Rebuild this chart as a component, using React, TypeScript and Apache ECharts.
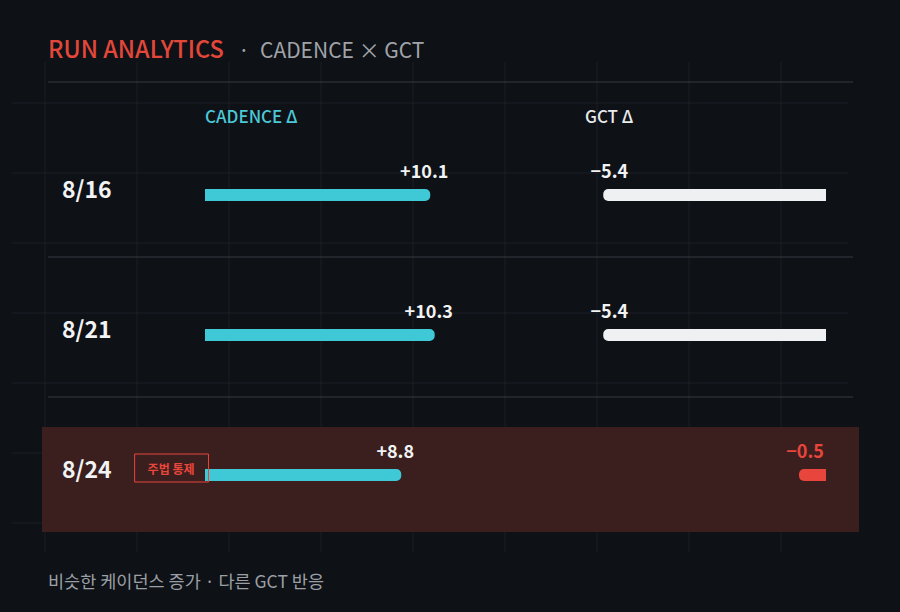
import React, { useEffect, useRef } from 'react';
import * as echarts from 'echarts';

const dates = ['8/16', '8/21', '8/24'];
const cadenceDelta = [10.1, 10.3, 8.8];
const gctDelta = [-5.4, -5.4, -0.5];
const highlightDate = '8/24';
const highlightTag = '주법 통제';

const titleMain = 'RUN ANALYTICS';
const titleSub = 'CADENCE × GCT';
const cadenceHeader = 'CADENCE Δ';
const gctHeader = 'GCT Δ';
const footNote = '비슷한 케이던스 증가 · 다른 GCT 반응';

const FONT = '"Noto Sans CJK KR", "Noto Sans", sans-serif';
const BG = '#0e1116';
const CYAN = '#3fc8d6';
const WHITE = '#eef0f2';
const RED = '#e8453c';

const App: React.FC = () => {
  const chartRef = useRef<HTMLDivElement>(null);

  useEffect(() => {
    document.body.style.margin = '0';
    const chart = echarts.init(chartRef.current!, undefined, { renderer: 'svg' });

    // faint background grid + stronger row separators
    const bgLines: any[] = [];
    for (let i = 0; i < 9; i++) {
      const x = 45 + i * 92;
      bgLines.push({
        type: 'line',
        z: 0,
        shape: { x1: x, y1: 62, x2: x, y2: 552 },
        style: { stroke: '#1b2026', lineWidth: 1 },
      });
    }
    for (let i = 0; i < 7; i++) {
      const y = 103 + i * 70;
      bgLines.push({
        type: 'line',
        z: 0,
        shape: { x1: 12, y1: y, x2: 848, y2: y },
        style: { stroke: '#1b2026', lineWidth: 1 },
      });
    }
    [82, 257, 397].forEach((y) => {
      bgLines.push({
        type: 'line',
        z: 1,
        shape: { x1: 48, y1: y, x2: 853, y2: y },
        style: { stroke: '#363b41', lineWidth: 1 },
      });
    });

    const options: any = {
      animation: false,
      backgroundColor: BG,
      textStyle: { fontFamily: FONT },
      graphic: [
        ...bgLines,
        {
          type: 'rect',
          z: 1,
          shape: { x: 42, y: 427, width: 817, height: 105 },
          style: { fill: '#3a1f1e' },
        },
        {
          type: 'text',
          z: 5,
          x: 48,
          y: 48,
          style: {
            text: titleMain,
            fill: '#e2473a',
            fontSize: 23.5,
            fontWeight: 500,
            fontFamily: FONT,
            verticalAlign: 'middle',
          },
        },
        {
          type: 'text',
          z: 5,
          x: 244,
          y: 49,
          style: {
            text: '·',
            fill: '#a0a4a9',
            fontSize: 21,
            fontFamily: FONT,
            align: 'center',
            verticalAlign: 'middle',
          },
        },
        {
          type: 'text',
          z: 5,
          x: 260,
          y: 49,
          style: {
            text: titleSub,
            fill: '#a0a4a9',
            fontSize: 21,
            fontFamily: FONT,
            verticalAlign: 'middle',
          },
        },
        {
          type: 'text',
          z: 5,
          x: 205,
          y: 115,
          style: {
            text: cadenceHeader,
            fill: '#4cc7d6',
            fontSize: 17,
            fontWeight: 500,
            fontFamily: FONT,
            verticalAlign: 'middle',
          },
        },
        {
          type: 'text',
          z: 5,
          x: 585,
          y: 115,
          style: {
            text: gctHeader,
            fill: '#e8eaec',
            fontSize: 17,
            fontWeight: 500,
            fontFamily: FONT,
            verticalAlign: 'middle',
          },
        },
        {
          type: 'text',
          z: 5,
          x: 48,
          y: 580,
          style: {
            text: footNote,
            fill: '#9ba0a6',
            fontSize: 17.5,
            fontFamily: FONT,
            verticalAlign: 'middle',
          },
        },
      ],
      grid: [
        { left: 205, width: 267.6, top: 125, height: 420 },
        { left: 496, width: 330, top: 125, height: 420 },
      ],
      xAxis: [
        { type: 'value', gridIndex: 0, min: 0, max: 12, show: false },
        { type: 'value', gridIndex: 1, min: -8, max: 0, show: false },
      ],
      yAxis: [
        {
          type: 'category',
          gridIndex: 0,
          z: 5,
          data: dates,
          inverse: true,
          axisLine: { show: false },
          axisTick: { show: false },
          splitLine: { show: false },
          axisLabel: {
            align: 'left',
            margin: 143,
            padding: [0, 0, 14, 0],
            formatter: (v: string) =>
              v === highlightDate ? `{d|${v}}{gap|}{badge|${highlightTag}}` : `{d|${v}}`,
            rich: {
              d: {
                fontSize: 23,
                fontWeight: 'bold',
                color: '#f2f3f4',
                fontFamily: FONT,
              },
              gap: { width: 23 },
              badge: {
                fontSize: 12,
                fontWeight: 'bold',
                color: RED,
                fontFamily: FONT,
                borderColor: RED,
                borderWidth: 1,
                padding: [8, 14, 8, 13],
              },
            },
          },
        },
        {
          type: 'category',
          gridIndex: 1,
          data: dates,
          inverse: true,
          show: false,
        },
      ],
      series: [
        {
          name: 'cadence',
          type: 'bar',
          xAxisIndex: 0,
          yAxisIndex: 0,
          z: 4,
          barWidth: 12,
          data: cadenceDelta,
          itemStyle: { color: CYAN, borderRadius: [0, 5, 5, 0] },
          label: {
            show: true,
            position: ['100%', -10],
            align: 'center',
            verticalAlign: 'bottom',
            offset: [-6, 0],
            color: '#f2f3f4',
            fontSize: 18,
            fontWeight: 'bold',
            fontFamily: FONT,
            formatter: (p: any) => '+' + p.value.toFixed(1),
          },
        },
        {
          name: 'gct',
          type: 'bar',
          xAxisIndex: 1,
          yAxisIndex: 1,
          z: 4,
          barWidth: 12,
          barMinHeight: 27,
          data: gctDelta.map((v, i) =>
            dates[i] === highlightDate
              ? { value: v, itemStyle: { color: RED }, label: { color: RED } }
              : v
          ),
          itemStyle: { color: WHITE, borderRadius: [5, 0, 0, 5] },
          label: {
            show: true,
            position: ['0%', -10],
            align: 'center',
            verticalAlign: 'bottom',
            offset: [6, 0],
            color: '#f2f3f4',
            fontSize: 18,
            fontWeight: 'bold',
            fontFamily: FONT,
            formatter: (p: any) => '\u2212' + Math.abs(p.value).toFixed(1),
          },
        },
      ],
    };

    chart.setOption(options);

    return () => {
      chart.dispose();
    };
  }, []);

  return <div ref={chartRef} style={{ width: '900px', height: '612px' }} />;
};

export default App;
